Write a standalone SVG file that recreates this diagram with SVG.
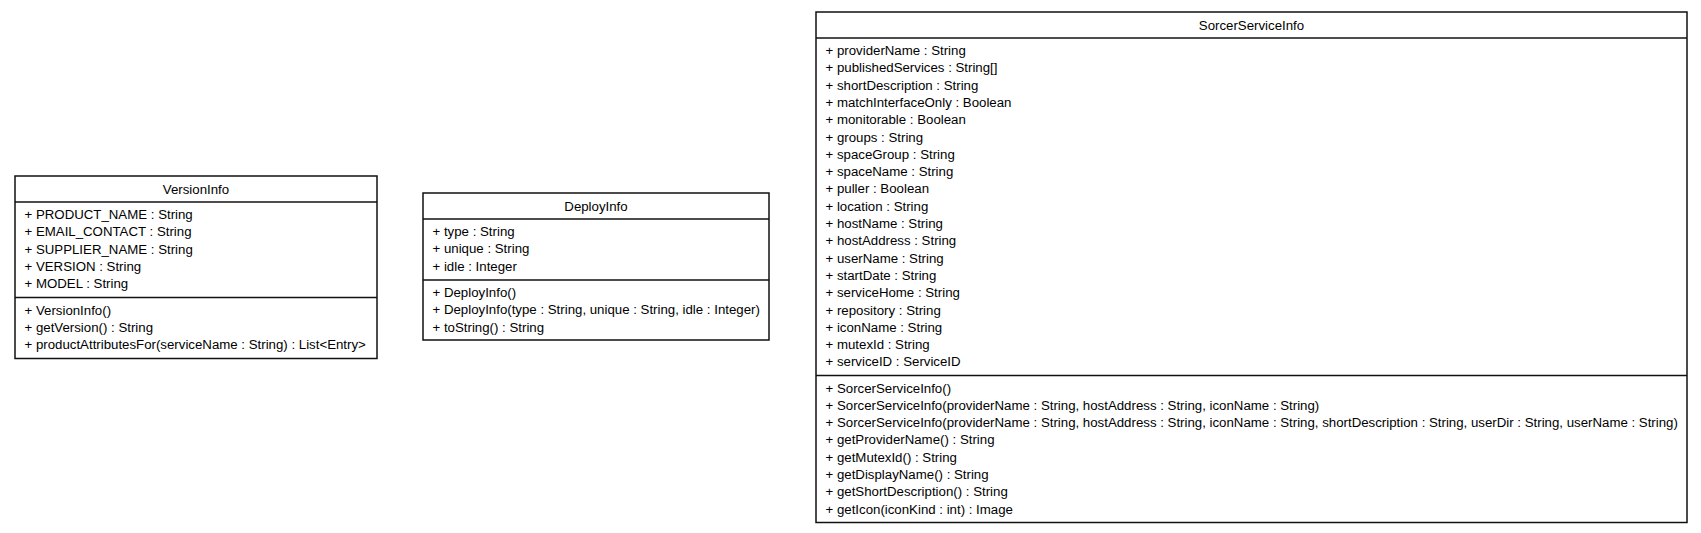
<svg xmlns="http://www.w3.org/2000/svg" width="1701" height="533" viewBox="0 0 1701 533">
<style>
.box{fill:#fff;stroke:#111;stroke-width:1.5}
.sep{stroke:#111;stroke-width:1.5}
text{font-family:"Liberation Sans",Arial,sans-serif;font-size:13.25px;fill:#000}
.t{text-anchor:middle}
</style>
<rect width="1701" height="533" fill="#fff"/>
<g id="connectors"/>
<g id="VersionInfo">
<rect class="box" x="15" y="176" width="362" height="182.5"/>
<line class="sep" x1="15" y1="202" x2="377" y2="202"/>
<line class="sep" x1="15" y1="297.5" x2="377" y2="297.5"/>
<text class="t" x="196" y="193.5">VersionInfo</text>
<text x="24.5" y="219">+ PRODUCT_NAME : String</text>
<text x="24.5" y="236.3">+ EMAIL_CONTACT : String</text>
<text x="24.5" y="253.6">+ SUPPLIER_NAME : String</text>
<text x="24.5" y="270.9">+ VERSION : String</text>
<text x="24.5" y="288.2">+ MODEL : String</text>
<text x="24.5" y="314.5">+ VersionInfo()</text>
<text x="24.5" y="331.8">+ getVersion() : String</text>
<text x="24.5" y="349.1">+ productAttributesFor(serviceName : String) : List&lt;Entry&gt;</text>
</g>
<g id="DeployInfo">
<rect class="box" x="423" y="193" width="346" height="147"/>
<line class="sep" x1="423" y1="219" x2="769" y2="219"/>
<line class="sep" x1="423" y1="280" x2="769" y2="280"/>
<text class="t" x="596" y="210.5">DeployInfo</text>
<text x="432.5" y="236">+ type : String</text>
<text x="432.5" y="253.3">+ unique : String</text>
<text x="432.5" y="270.6">+ idle : Integer</text>
<text x="432.5" y="297">+ DeployInfo()</text>
<text x="432.5" y="314.3">+ DeployInfo(type : String, unique : String, idle : Integer)</text>
<text x="432.5" y="331.6">+ toString() : String</text>
</g>
<g id="SorcerServiceInfo">
<rect class="box" x="816" y="12" width="871" height="510.5"/>
<line class="sep" x1="816" y1="38" x2="1687" y2="38"/>
<line class="sep" x1="816" y1="375.5" x2="1687" y2="375.5"/>
<text class="t" x="1251.5" y="29.5">SorcerServiceInfo</text>
<text x="825.5" y="55">+ providerName : String</text>
<text x="825.5" y="72.3">+ publishedServices : String[]</text>
<text x="825.5" y="89.6">+ shortDescription : String</text>
<text x="825.5" y="106.9">+ matchInterfaceOnly : Boolean</text>
<text x="825.5" y="124.2">+ monitorable : Boolean</text>
<text x="825.5" y="141.5">+ groups : String</text>
<text x="825.5" y="158.8">+ spaceGroup : String</text>
<text x="825.5" y="176.1">+ spaceName : String</text>
<text x="825.5" y="193.4">+ puller : Boolean</text>
<text x="825.5" y="210.7">+ location : String</text>
<text x="825.5" y="228">+ hostName : String</text>
<text x="825.5" y="245.3">+ hostAddress : String</text>
<text x="825.5" y="262.6">+ userName : String</text>
<text x="825.5" y="279.9">+ startDate : String</text>
<text x="825.5" y="297.2">+ serviceHome : String</text>
<text x="825.5" y="314.5">+ repository : String</text>
<text x="825.5" y="331.8">+ iconName : String</text>
<text x="825.5" y="349.1">+ mutexId : String</text>
<text x="825.5" y="366.4">+ serviceID : ServiceID</text>
<text x="825.5" y="392.5">+ SorcerServiceInfo()</text>
<text x="825.5" y="409.8">+ SorcerServiceInfo(providerName : String, hostAddress : String, iconName : String)</text>
<text x="825.5" y="427.1">+ SorcerServiceInfo(providerName : String, hostAddress : String, iconName : String, shortDescription : String, userDir : String, userName : String)</text>
<text x="825.5" y="444.4">+ getProviderName() : String</text>
<text x="825.5" y="461.7">+ getMutexId() : String</text>
<text x="825.5" y="479">+ getDisplayName() : String</text>
<text x="825.5" y="496.3">+ getShortDescription() : String</text>
<text x="825.5" y="513.6">+ getIcon(iconKind : int) : Image</text>
</g>
</svg>
